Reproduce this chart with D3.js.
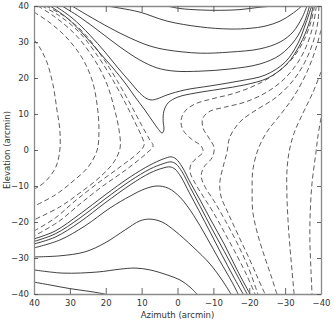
<!DOCTYPE html>
<html><head><meta charset="utf-8">
<script src="https://cdn.jsdelivr.net/npm/d3@7"></script>
<style>html,body{margin:0;padding:0;background:#fff;}svg{display:block;}</style>
</head><body><svg id="c" width="334" height="323"></svg>
<script>
// Axis ticks (arcmin)
const xTicks = [40, 30, 20, 10, 0, -10, -20, -30, -40];
const yTicks = [40, 30, 20, 10, 0, -10, -20, -30, -40];
const xTitle = "Azimuth (arcmin)";
const yTitle = "Elevation (arcmin)";

// Contour lines, [azimuth, elevation] in arcmin
// Solid contours – upper family
const T0 = [[2.9,40],[-0.7,39.3],[-6.3,38.9],[-11.8,38.8],[-17.4,39.0],[-22.4,39.6],[-26.9,40]];
const T1 = [[19.7,40],[16.0,39.4],[10.5,38.3],[2.9,35.8],[-6.3,34.2],[-14.6,33.6],[-20.2,33.8],[-24.4,34.4],[-28.6,35.8],[-31.9,37.8],[-34.7,40]];
const T2 = [[29.4,40],[25.2,37.5],[18.8,33.9],[13.2,31.1],[7.7,28.9],[2.9,27.8],[-6.3,26.9],[-14.6,27.2],[-23.0,28.1],[-28.6,30.0],[-32.2,32.8],[-34.7,36.7],[-36.1,40]];
const T3 = [[32.2,40],[27.2,36.9],[21.6,32.8],[16.0,28.6],[10.5,25.0],[5.7,22.8],[0.7,21.9],[-6.3,21.9],[-14.6,22.5],[-23.0,23.9],[-28.6,26.4],[-32.8,30.6],[-35.3,35.3],[-36.8,40]];
const T4 = [[34.1,40],[29.4,36.7],[24.4,31.9],[20.2,27.2],[16.6,22.8],[13.2,18.9],[10.5,15.8],[8.8,14.4],[7.4,13.9],[5.7,14.2],[2.9,15.3],[-2.1,16.7],[-9.1,17.8],[-17.4,19.2],[-24.4,20.8],[-30.0,24.4],[-33.6,29.7],[-35.8,35.3],[-37.4,40]];
const T5 = [[35.5,40],[30.8,36.7],[25.8,31.7],[21.6,26.9],[18.0,22.8],[14.6,18.6],[11.8,14.7],[9.1,11.1],[6.8,7.8],[5.2,5.6],[4.3,4.7],[3.8,5.6],[4.0,8.1],[3.8,10.8],[2.6,13.1],[-0.1,14.7],[-4.9,15.8],[-11.8,16.9],[-18.8,18.1],[-25.2,20.0],[-30.5,23.9],[-34.1,29.2],[-36.7,35.3],[-37.8,40]];
// Solid contours – lower family
const B0 = [[40,-36.7],[35.5,-37.5],[30.0,-38.5],[24.4,-39.3],[20.2,-40]];
const B1 = [[40,-33.3],[31.9,-34.2],[22.4,-33.9],[16.0,-33.1],[11.8,-32.8],[7.7,-33.3],[2.9,-34.7],[-0.7,-36.1],[-3.5,-38.1],[-5.4,-40]];
const B2 = [[40,-29.7],[32.8,-29.4],[25.8,-28.3],[20.2,-25.8],[14.6,-22.2],[10.5,-19.7],[7.7,-19.2],[4.3,-20.0],[0.7,-22.5],[-4.3,-26.9],[-9.1,-31.7],[-12.4,-36.1],[-14.9,-40]];
const B3 = [[40,-27.2],[32.8,-25.0],[25.8,-21.1],[18.8,-16.1],[13.2,-12.8],[9.1,-10.8],[5.7,-10.0],[2.6,-10.6],[-0.7,-13.1],[-4.6,-18.3],[-8.2,-24.4],[-11.8,-30.8],[-15.2,-36.7],[-16.9,-40]];
const B4 = [[40,-26.1],[34.1,-24.2],[27.2,-20.0],[20.2,-14.7],[13.2,-9.7],[7.7,-6.4],[4.0,-5.0],[2.1,-4.7],[0.7,-5.3],[-1.0,-7.5],[-3.2,-11.7],[-6.0,-16.9],[-9.1,-22.8],[-12.4,-29.2],[-15.5,-35.0],[-18.3,-40]];
const B5 = [[40,-25.4],[34.1,-23.3],[27.2,-18.9],[20.2,-13.6],[13.2,-8.6],[7.7,-5.3],[4.0,-3.8],[1.8,-3.3],[0.4,-3.9],[-1.3,-6.1],[-3.5,-10.3],[-6.3,-15.6],[-9.6,-21.9],[-13.0,-28.1],[-16.3,-34.2],[-19.4,-40]];
const B6 = [[40,-24.7],[34.1,-22.5],[27.2,-17.8],[20.2,-12.5],[13.2,-7.5],[7.7,-4.2],[4.0,-2.5],[1.8,-1.9],[0.4,-2.5],[-1.3,-4.7],[-3.5,-8.9],[-6.3,-13.9],[-9.6,-20.0],[-13.0,-26.1],[-16.6,-33.3],[-20.2,-40]];
// Dashed contours – left family
const L1 = [[40,30.6],[38.3,28.3],[36.4,24.4],[34.7,18.1],[33.6,11.1],[32.8,5.6],[32.8,0],[33.9,-4.7],[36.4,-8.3],[38.9,-10.3],[40,-10.8]];
const L2 = [[40,38.3],[35.5,35.3],[30.8,31.1],[26.6,25.6],[23.8,19.4],[22.4,12.5],[21.9,5.6],[22.4,0],[24.9,-4.7],[29.4,-8.9],[34.1,-12.5],[40,-15.6]];
const L3 = [[38.9,40],[34.1,36.9],[28.6,32.2],[23.6,25.8],[19.9,18.9],[17.7,11.9],[16.3,5.6],[16.0,0.6],[17.7,-3.3],[21.6,-7.5],[27.2,-11.9],[32.8,-15.8],[40,-19.4]];
const L4 = [[37.8,40],[32.8,37.2],[27.2,32.5],[21.9,25.6],[18.0,19.4],[14.4,12.8],[11.6,7.2],[9.9,3.6],[9.3,1.4],[11.0,-0.8],[16.0,-4.7],[22.2,-9.2],[28.6,-14.2],[34.1,-18.9],[40,-22.5]];
const L5 = [[36.7,40],[31.6,37.2],[26.1,32.5],[20.8,25.6],[16.9,19.4],[13.0,12.5],[9.9,6.7],[7.9,3.1],[6.8,1.1],[8.5,-0.8],[14.1,-5.3],[20.8,-10.0],[27.2,-15.0],[33.3,-20.0],[40,-23.9]];
// Dashed contours – right family
const R1 = [[-38.2,40],[-37.2,35.6],[-35.3,30.6],[-32.2,25.6],[-28.0,21.7],[-22.4,18.3],[-16.0,15.8],[-9.6,14.2],[-4.9,12.8],[-2.1,10.8],[-1.0,8.3],[-1.5,5.6],[-3.8,3.1],[-6.6,1.1],[-7.1,-0.6],[-5.4,-2.2],[-3.8,-3.9],[-3.5,-6.1],[-4.9,-9.2],[-7.1,-12.8],[-9.9,-17.2],[-13.2,-23.1],[-16.6,-29.4],[-19.4,-35.0],[-21.6,-40]];
const R2 = [[-38.7,40],[-38.0,35.6],[-36.4,30.0],[-33.6,24.4],[-29.4,19.4],[-24.4,15.8],[-18.8,13.3],[-13.2,11.9],[-9.1,10.8],[-7.1,8.9],[-7.1,6.1],[-8.8,3.3],[-10.2,0.6],[-9.6,-2.2],[-7.4,-4.7],[-6.6,-7.2],[-7.7,-10.3],[-10.2,-14.2],[-13.2,-19.4],[-16.6,-25.8],[-19.7,-32.5],[-22.4,-40]];
const R3 = [[-39.4,40],[-39.2,36.1],[-38.0,30.6],[-35.5,24.4],[-31.9,18.9],[-27.2,14.4],[-21.9,11.1],[-17.4,7.8],[-14.6,3.6],[-13.8,-0.6],[-12.7,-4.7],[-11.8,-8.9],[-12.1,-12.8],[-14.1,-17.5],[-16.9,-23.6],[-20.2,-30.6],[-22.4,-35.6],[-24.4,-40]];
const R4 = [[-40,33.3],[-38.6,28.3],[-36.1,21.7],[-32.5,15.0],[-28.6,9.7],[-24.9,5.0],[-22.4,0],[-21.0,-5.6],[-20.8,-11.1],[-21.0,-17.2],[-22.4,-23.6],[-24.4,-30.0],[-26.3,-35.6],[-27.7,-40]];
const R5 = [[-40,21.7],[-37.8,16.1],[-35.0,10.3],[-32.5,4.7],[-31.1,-0.6],[-30.5,-6.1],[-30.5,-12.5],[-30.8,-19.4],[-31.3,-26.4],[-31.9,-33.3],[-32.5,-40]];
const R6 = [[-40,8.9],[-39.2,4.2],[-38.6,-0.6],[-37.5,-9.2],[-37.0,-17.2],[-36.9,-25.0],[-37.2,-33.3],[-37.5,-40]];

const solidContours = [T0, T1, T2, T3, T4, T5, B0, B1, B2, B3, B4, B5, B6];
const dashedContours = [L1, L2, L3, L4, L5, R1, R2, R3, R4, R5, R6];

const svg = d3.select("#c");
const margin = {left: 34, right: 13, top: 6, bottom: 29};
const W = 334, H = 323;
const x = d3.scaleLinear().domain([40, -40]).range([margin.left, W - margin.right]);
const y = d3.scaleLinear().domain([40, -40]).range([margin.top, H - margin.bottom]);

svg.append("defs").append("clipPath").attr("id", "clip")
  .append("rect").attr("x", x(40)).attr("y", y(40))
  .attr("width", x(-40) - x(40)).attr("height", y(-40) - y(40));

const line = d3.line().x(d => x(d[0])).y(d => y(d[1])).curve(d3.curveCatmullRom.alpha(0.5));
const g = svg.append("g").attr("clip-path", "url(#clip)");
g.selectAll("path.solid").data(solidContours).join("path")
  .attr("class", "solid").attr("d", line)
  .attr("fill", "none").attr("stroke", "#2a2a2a").attr("stroke-width", 0.9);
g.selectAll("path.dash").data(dashedContours).join("path")
  .attr("class", "dash").attr("d", line)
  .attr("fill", "none").attr("stroke", "#4a4a4a").attr("stroke-width", 0.9)
  .attr("stroke-dasharray", "5,3");

const fmt = d => d < 0 ? "\u2212" + Math.abs(d) : String(d);
const font = "'DejaVu Sans', sans-serif";
function styleAxis(sel) {
  sel.select(".domain").attr("stroke", "#8a8a8a").attr("stroke-width", 1.3);
  sel.selectAll(".tick line").attr("stroke", "#555").attr("stroke-width", 0.9);
  sel.selectAll(".tick text").attr("fill", "#333").style("font-family", font).style("font-size", "8.5px");
}
svg.append("g").attr("transform", `translate(0,${y(-40)})`)
  .call(d3.axisBottom(x).tickValues(xTicks).tickFormat(fmt).tickSize(-6).tickSizeOuter(0).tickPadding(6))
  .call(styleAxis);
svg.append("g").attr("transform", `translate(0,${y(40)})`)
  .call(d3.axisTop(x).tickValues(xTicks).tickFormat("").tickSize(-6).tickSizeOuter(0))
  .call(styleAxis);
svg.append("g").attr("transform", `translate(${x(40)},0)`)
  .call(d3.axisLeft(y).tickValues(yTicks).tickFormat(fmt).tickSize(-4).tickSizeOuter(0).tickPadding(5))
  .call(styleAxis);
svg.append("g").attr("transform", `translate(${x(-40)},0)`)
  .call(d3.axisRight(y).tickValues(yTicks).tickFormat("").tickSize(-4).tickSizeOuter(0))
  .call(styleAxis);

svg.append("text").attr("x", x(0)).attr("y", 318).attr("text-anchor", "middle")
  .attr("fill", "#333").style("font-family", font).style("font-size", "8.5px").text(xTitle);
svg.append("text").attr("transform", `translate(10,${y(0)}) rotate(-90)`).attr("text-anchor", "middle")
  .attr("fill", "#333").style("font-family", font).style("font-size", "8.5px").text(yTitle);
</script></body></html>
